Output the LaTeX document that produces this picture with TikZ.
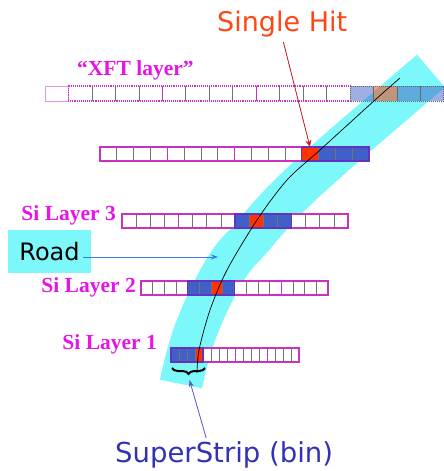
\documentclass[tikz,border=0pt]{standalone}
\usepackage{fontspec}
\setmainfont{Liberation Serif}
\newfontfamily\comicf{DejaVu Sans}
\usetikzlibrary{arrows.meta,decorations.pathreplacing}
\definecolor{bandcyan}{RGB}{125,248,250}
\definecolor{labmag}{RGB}{230,20,230}
\definecolor{rowmag}{RGB}{200,50,190}
\definecolor{lightmag}{RGB}{230,150,230}
\definecolor{groupvio}{RGB}{100,50,190}
\definecolor{cellblue}{RGB}{65,95,200}
\definecolor{hitred}{RGB}{255,50,0}
\definecolor{hitorange}{RGB}{255,70,20}
\definecolor{arrowred}{RGB}{200,30,30}
\definecolor{roadblue}{RGB}{60,120,240}
\definecolor{sstext}{RGB}{50,50,180}
\definecolor{ssarrow}{RGB}{90,90,200}
\tikzset{
  divider/.style={draw=black!55, line width=0.7pt},
  magline/.style={draw=rowmag, line width=1.4pt},
  magthin/.style={draw=rowmag, line width=1pt},
  groupline/.style={draw=groupvio, line width=1.2pt},
  maglabel/.style={text=labmag, font=\bfseries\fontsize{21.5}{24}\selectfont, inner sep=0pt},
  comictext/.style={inner sep=0pt},
}
\newcommand{\drawsirow}[6]{%
  \fill[white] (#1,#2) rectangle ++({16*#3},#4);
  \fill[cellblue] ({#1+#5*#3},#2) rectangle ++({4*#3},#4);
  \fill[hitred] ({#1+#6*#3},#2) rectangle ++({#3},#4);
  \foreach \k in {1,...,15} {\draw[divider] ({#1+\k*#3},#2) -- ++(0,#4);}
  \foreach \k in {4,8,12} {\draw[magthin] ({#1+\k*#3},#2) -- ++(0,#4);}
  \draw[magline] (#1,#2) rectangle ++({16*#3},#4);
  \draw[groupline] ({#1+#5*#3},#2) rectangle ++({4*#3},#4);
}
\begin{document}
\begin{tikzpicture}[x=1pt,y=-1pt]
\useasboundingbox (0,0) rectangle (444,471);
% road band
\begin{scope}
\clip (0,0) rectangle (444,471);
\draw[bandcyan, line width=43pt, line cap=butt, line join=round] plot[smooth, tension=0.7] coordinates {(181,384) (196,330) (225,270) (252,237) (285,200) (330,158) (375,119) (431,71)};
\end{scope}
% XFT layer
\def\xw{23.47}
\draw[draw=lightmag, line width=0.6pt] (45,86) rectangle ++(\xw,15);
\foreach \k in {2,...,12} {\draw[divider] ({45+\k*\xw},86) -- ++(0,15);}
\foreach \k in {5,9} {\draw[magthin] ({45+\k*\xw},86) -- ++(0,15);}
\draw[rowmag, densely dotted, line width=1.1pt] ({45+\xw},86) rectangle ({45+13*\xw},101);
\foreach \k in {13,15,16} {\fill[cellblue, fill opacity=0.5] ({45+\k*\xw},86) rectangle ++(\xw,15);}
\fill[hitred, fill opacity=0.5] ({45+14*\xw},86) rectangle ++(\xw,15);
\foreach \k in {14,15,16} {\draw[draw=black!60, line width=0.7pt] ({45+\k*\xw},86) -- ++(0,15);}
\draw[black!60, densely dotted, line width=1pt] ({45+13*\xw},86) rectangle ({45+17*\xw},101);
% silicon rows
\drawsirow{100}{147}{16.81}{14}{12}{12}
\drawsirow{122}{214}{14.125}{14}{8}{9}
\drawsirow{141}{281}{11.69}{14}{4}{6}
\drawsirow{171}{348}{8}{14}{0}{3}
\coordinate (hittop) at (310,147);
% track
\draw[line width=0.7pt] plot[smooth] coordinates {(400,78) (375,100) (320,150) (287,180) (257,220) (227,270) (210,310) (199,350) (197,373)};
% labels
\node[maglabel, anchor=base west] (xftl) at (77,75) {“XFT layer”};
\node[maglabel, anchor=base east] (si3) at (116,220) {Si Layer 3};
\node[maglabel, anchor=base east] (si2) at (136,292) {Si Layer 2};
\node[maglabel, anchor=base east] (si1) at (157,349) {Si Layer 1};
\node[comictext, font=\comicf\fontsize{27}{30}\selectfont, text=hitorange, anchor=base west] (sh) at (217,31.5) {Single Hit};
\node[fill=bandcyan, minimum width=83pt, minimum height=43pt, inner sep=0pt, font=\comicf\fontsize{24}{28}\selectfont] (road) at (49.5,251.5) {Road};
\node[comictext, font=\comicf\fontsize{27.5}{30}\selectfont, text=sstext, anchor=base west] (ss) at (115,462) {SuperStrip (bin)};
% brace
\draw[decorate, decoration={brace, mirror, amplitude=6pt}, line width=2pt] (172,368) -- (205,368);
\coordinate (brtip) at (189.5,380);
\coordinate (roadtip) at (218,257);
% arrows
\draw[-{Stealth[length=7pt,width=6pt]}, draw=arrowred, fill=arrowred, line width=0.8pt, shorten <=5pt] (sh.south) -- (hittop);
\draw[-{Stealth[length=7pt,width=5pt]}, draw=roadblue, fill=roadblue, line width=0.8pt] ([xshift=-8pt,yshift=-5.5pt]road.east) -- (roadtip);
\draw[-{Stealth[length=7pt,width=5pt]}, draw=ssarrow, fill=ssarrow, line width=0.8pt] ([xshift=-18pt,yshift=3pt]ss.north) -- (brtip);
\end{tikzpicture}
\end{document}
